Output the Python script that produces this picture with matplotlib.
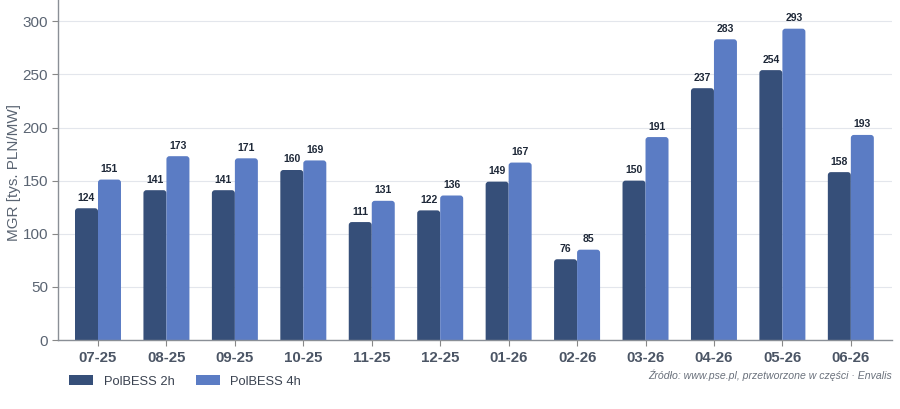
import matplotlib
matplotlib.use("Agg")
import matplotlib.pyplot as plt
from matplotlib.patches import FancyBboxPatch, Patch
import numpy as np

plt.rcParams['font.family'] = ['Liberation Sans', 'DejaVu Sans']

months = ["07-25", "08-25", "09-25", "10-25", "11-25", "12-25",
          "01-26", "02-26", "03-26", "04-26", "05-26", "06-26"]
bess_2h = [124, 141, 141, 160, 111, 122, 149, 76, 150, 237, 254, 158]
bess_4h = [151, 173, 171, 169, 131, 136, 167, 85, 191, 283, 293, 193]
series_names = ["PolBESS 2h", "PolBESS 4h"]
yticks = [0, 50, 100, 150, 200, 250, 300]

c_dark = "#364f79"
c_light = "#5b7cc4"
txt_gray = "#5a6472"

fig = plt.figure(figsize=(9, 4.09), dpi=100)
ax = fig.add_axes([0.0644, 0.1687, 0.9266, 0.8313])

x = np.arange(len(months))
w = 0.336
xlim = (-0.585, 11.6)
ylim = (0, 320)
ax.set_xlim(*xlim)
ax.set_ylim(*ylim)

# pixel scale for rounded corners
ax_w_px = 0.9266 * 900
ax_h_px = 0.8313 * 409
xpp = (xlim[1] - xlim[0]) / ax_w_px
ypp = (ylim[1] - ylim[0]) / ax_h_px
aspect = ypp / xpp
r_px = 3.0

for vals, off, col in [(bess_2h, -w / 2, c_dark), (bess_4h, w / 2, c_light)]:
    bars = ax.bar(x + off, vals, width=w, color=col, alpha=0)
    for b, v in zip(bars, vals):
        x0 = b.get_x()
        bw = b.get_width()
        y0 = -r_px * ypp * 2
        p = FancyBboxPatch((x0, y0), bw, v - y0,
                           boxstyle=f"round,pad=0,rounding_size={r_px * xpp}",
                           mutation_aspect=aspect, facecolor=col,
                           edgecolor="none", zorder=3, clip_on=True)
        ax.add_patch(p)
        ax.annotate(str(v), (b.get_x() + b.get_width() / 2, v),
                    xytext=(0, 4), textcoords="offset points",
                    ha="center", va="bottom", fontsize=7.5,
                    fontweight="bold", color="#1e2838", zorder=4)

ax.set_yticks(yticks)
ax.set_yticklabels([str(t) for t in yticks], fontsize=11, color=txt_gray)
ax.set_xticks(x)
ax.set_xticklabels(months, fontsize=10.8, fontweight="bold", color="#4b5565")
ax.tick_params(axis="x", length=4, color="#888888", pad=4)
ax.tick_params(axis="y", length=4, color="#888888", pad=3)
ax.grid(axis="y", color="#e3e6ec", linewidth=0.8, zorder=0)
ax.set_axisbelow(True)
for s in ["top", "right"]:
    ax.spines[s].set_visible(False)
for s in ["left", "bottom"]:
    ax.spines[s].set_color("#8a8f96")
    ax.spines[s].set_linewidth(1.0)
ax.spines["bottom"].set_zorder(5)

ax.set_ylabel("MGR [tys. PLN/MW]", fontsize=11, color=txt_gray)
ax.yaxis.set_label_coords(-0.0445, 0.494)

handles = [Patch(facecolor=c_dark, label=series_names[0]),
           Patch(facecolor=c_light, label=series_names[1])]
leg = fig.legend(handles=handles, loc="center left",
                 bbox_to_anchor=(0.077, 0.067), ncol=2, frameon=False,
                 fontsize=9.3, handlelength=1.85, handleheight=0.75,
                 columnspacing=1.7, handletextpad=0.8, borderpad=0,
                 borderaxespad=0)
for t in leg.get_texts():
    t.set_color("#3a4250")

fig.text(0.991, 0.082, "Źródło: www.pse.pl, przetworzone w części · Envalis",
         ha="right", va="center", fontsize=7.6, style="italic", color="#6a717c")

fig.savefig("out.png", dpi=100)
